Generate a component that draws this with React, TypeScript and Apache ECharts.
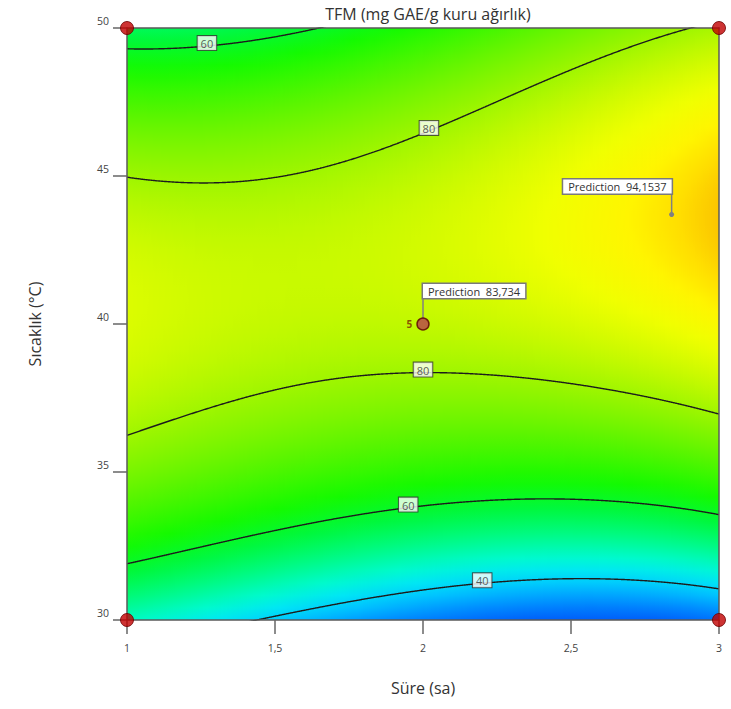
import React, { useEffect, useRef } from "react";
import * as echarts from "echarts";

// ---- data ----
const xTickValues = [1, 1.5, 2, 2.5, 3];
const xTickLabels = ["1", "1,5", "2", "2,5", "3"];
const yTickValues = [30, 35, 40, 45, 50];
const yTickLabels = ["30", "35", "40", "45", "50"];

const designX = [1, 1, 3, 3];
const designY = [30, 50, 30, 50];
const centerPoint = [2, 40];
const centerReplicates = "5";

const predictionX = [2, 2.84];
const predictionY = [40, 43.7];
const predictionText = ["Prediction  83,734", "Prediction  94,1537"];

// response surface estimated from the contours (coded units: A = x - 2, B = (y - 40) / 10)
// terms: 1, A, B, AB, A², B², A²B, A(1-A²)B
const modelCoefficients = [83.734, 2.21, 16.94, 10.59, 5.06, -35.3, -2.12, 4.0];

const contourLevels = [40, 60, 80];
const contourLabelLevel = [60, 80, 80, 60, 40];
const contourLabelBranch = ["upper", "upper", "lower", "lower", "lower"];
const contourLabelX = [1.27, 2.02, 2.0, 1.95, 2.2];

// ---- palette (value -> colour) ----
const paletteValues = [28, 33, 38, 42, 46, 52, 58, 64, 72, 79, 85, 89, 92, 94, 96, 98];
const paletteColors = [
  [0, 95, 250], [0, 140, 255], [0, 195, 255], [0, 230, 245], [0, 250, 205],
  [0, 250, 130], [0, 248, 60], [20, 250, 0], [90, 245, 0], [150, 245, 0],
  [205, 250, 0], [240, 255, 0], [255, 245, 0], [255, 222, 0], [250, 190, 0], [245, 160, 0],
];

function colorAt(v: number): string {
  const n = paletteValues.length;
  if (v <= paletteValues[0]) return `rgb(${paletteColors[0].join(",")})`;
  if (v >= paletteValues[n - 1]) return `rgb(${paletteColors[n - 1].join(",")})`;
  for (let i = 0; i < n - 1; i++) {
    if (v <= paletteValues[i + 1]) {
      const t = (v - paletteValues[i]) / (paletteValues[i + 1] - paletteValues[i]);
      const a = paletteColors[i], b = paletteColors[i + 1];
      const c = a.map((av, k) => Math.round(av + (b[k] - av) * t));
      return `rgb(${c.join(",")})`;
    }
  }
  return "#000";
}

function linearB(A: number): number {
  const c = modelCoefficients;
  return c[2] + c[3] * A + c[6] * A * A + c[7] * A * (1 - A * A);
}

function model(x: number, y: number): number {
  const A = x - 2, B = (y - 40) / 10;
  const c = modelCoefficients;
  return c[0] + c[1] * A + c[4] * A * A + linearB(A) * B + c[5] * B * B;
}

function contourY(x: number, level: number, branch: string): number | null {
  const A = x - 2;
  const c = modelCoefficients;
  const a2 = c[5];
  const a1 = linearB(A);
  const a0 = c[0] + c[1] * A + c[4] * A * A - level;
  const disc = a1 * a1 - 4 * a2 * a0;
  if (disc < 0) return null;
  const r1 = (-a1 + Math.sqrt(disc)) / (2 * a2);
  const r2 = (-a1 - Math.sqrt(disc)) / (2 * a2);
  const B = branch === "upper" ? Math.max(r1, r2) : Math.min(r1, r2);
  return 40 + 10 * B;
}

const FONT = "'Open Sans', 'Noto Sans', sans-serif";

export default function App() {
  const ref = useRef<HTMLDivElement>(null);
  useEffect(() => {
    document.body.style.margin = "0";
    const chart = echarts.init(ref.current!, null, { renderer: "svg" });

    const NCOL = 296;
    const surfaceData: number[][] = [];
    for (let i = 0; i < NCOL; i++) {
      surfaceData.push([1 + (i * 2) / NCOL, 1 + ((i + 1) * 2) / NCOL, 30, 50]);
    }

    const contourSeries: any[] = [];
    contourLevels.forEach((level) => {
      ["upper", "lower"].forEach((branch) => {
        const pts: number[][] = [];
        for (let k = 0; k <= 800; k++) {
          const x = 1 + (k * 2) / 800;
          const y = contourY(x, level, branch);
          if (y !== null && y >= 27 && y <= 53) pts.push([x, y]);
        }
        if (pts.length > 1) {
          contourSeries.push({
            type: "line",
            data: pts,
            showSymbol: false,
            symbol: "none",
            clip: true,
            z: 3,
            lineStyle: { color: "#1c1c1c", width: 1.4 },
            silent: true,
          });
        }
      });
    });

    const labelData = contourLabelX.map((x, i) => [
      x,
      contourY(x, contourLabelLevel[i], contourLabelBranch[i]) as number,
      contourLabelLevel[i],
    ]);

    const option: any = {
      animation: false,
      textStyle: { fontFamily: FONT },
      title: {
        text: "TFM (mg GAE/g kuru ağırlık)",
        left: 423,
        top: 1,
        textAlign: "center",
        textStyle: { fontSize: 16, fontWeight: "normal", color: "#333", fontFamily: FONT },
      },
      grid: { left: 127, top: 28, width: 592, height: 592, containLabel: false },
      xAxis: [
        {
          type: "value",
          min: 1,
          max: 3,
          interval: 0.5,
          z: 4,
          name: "Süre (sa)",
          nameLocation: "middle",
          nameGap: 60,
          nameTextStyle: { fontSize: 16, color: "#333", fontFamily: FONT },
          axisLine: { show: true, lineStyle: { color: "#5a5a5a", width: 1.5 } },
          axisTick: { show: true, length: 14, lineStyle: { color: "#666", width: 1.5 } },
          axisLabel: {
            fontSize: 10.5,
            color: "#444",
            margin: 22,
            formatter: (v: number) => {
              const i = xTickValues.findIndex((t) => Math.abs(t - v) < 1e-9);
              return i >= 0 ? xTickLabels[i] : "";
            },
          },
          splitLine: { show: false },
        },
        {
          type: "value",
          min: 1,
          max: 3,
          position: "top",
          z: 4,
          axisLine: { show: true, lineStyle: { color: "#5a5a5a", width: 1.5 } },
          axisTick: { show: false },
          axisLabel: { show: false },
          splitLine: { show: false },
        },
      ],
      yAxis: [
        {
          type: "value",
          min: 30,
          max: 50,
          interval: 5,
          z: 4,
          name: "Sıcaklık (°C)",
          nameLocation: "middle",
          nameGap: 84,
          nameTextStyle: { fontSize: 16, color: "#333", fontFamily: FONT },
          axisLine: { show: true, lineStyle: { color: "#5a5a5a", width: 1.5 } },
          axisTick: { show: true, length: 14, lineStyle: { color: "#666", width: 1.5 } },
          axisLabel: {
            fontSize: 10.5,
            color: "#444",
            margin: 18,
            verticalAlign: "bottom",
            padding: [0, 0, 2, 0],
            formatter: (v: number) => {
              const i = yTickValues.findIndex((t) => Math.abs(t - v) < 1e-9);
              return i >= 0 ? yTickLabels[i] : "";
            },
          },
          splitLine: { show: false },
        },
        {
          type: "value",
          min: 30,
          max: 50,
          position: "right",
          z: 4,
          axisLine: { show: true, lineStyle: { color: "#5a5a5a", width: 1.5 } },
          axisTick: { show: false },
          axisLabel: { show: false },
          splitLine: { show: false },
        },
      ],
      series: [
        {
          type: "custom",
          data: surfaceData,
          encode: { x: [0, 1], y: [2, 3] },
          clip: true,
          z: 1,
          silent: true,
          renderItem: (params: any, api: any) => {
            const x0 = api.value(0), x1 = api.value(1);
            const p0 = api.coord([x0, 50]);
            const p1 = api.coord([x1, 30]);
            const xm = (x0 + x1) / 2;
            const NS = 48;
            const stops: any[] = [];
            for (let k = 0; k <= NS; k++) {
              const t = k / NS;
              stops.push({ offset: t, color: colorAt(model(xm, 50 - 20 * t)) });
            }
            return {
              type: "rect",
              shape: { x: p0[0], y: p0[1], width: p1[0] - p0[0] + 0.8, height: p1[1] - p0[1] },
              style: { fill: new echarts.graphic.LinearGradient(0, 0, 0, 1, stops), stroke: null },
            };
          },
        },
        ...contourSeries,
        {
          type: "scatter",
          data: labelData,
          symbolSize: 0,
          z: 5,
          silent: true,
          label: {
            show: true,
            position: "top",
            distance: -4,
            formatter: (p: any) => String(p.value[2]),
            fontSize: 11,
            color: "#333",
            backgroundColor: "#fff",
            borderColor: "#333",
            borderWidth: 1,
            padding: [2, 3, 1, 3],
            fontFamily: FONT,
          },
        },
        {
          type: "scatter",
          data: designX.map((x, i) => [x, designY[i]]),
          symbol: "circle",
          symbolSize: 13,
          clip: false,
          z: 6,
          itemStyle: { color: "#c00000", borderColor: "#6a0000", borderWidth: 1 },
          silent: true,
        },
        {
          type: "scatter",
          data: [centerPoint],
          symbol: "circle",
          symbolSize: 12,
          clip: false,
          z: 6,
          itemStyle: { color: "#b8404f", borderColor: "#5a0000", borderWidth: 1.5 },
          label: {
            show: true,
            position: "left",
            distance: 4,
            formatter: centerReplicates,
            fontSize: 10,
            color: "#7a2a00",
            fontWeight: "bold",
            fontFamily: FONT,
          },
          silent: true,
        },
      ],
    };
    chart.setOption(option);

    const p0 = chart.convertToPixel({ gridIndex: 0 }, [predictionX[0], predictionY[0]]) as number[];
    const p1 = chart.convertToPixel({ gridIndex: 0 }, [predictionX[1], predictionY[1]]) as number[];
    const boxStyle = {
      fontSize: 11,
      fontFamily: FONT,
      fill: "#333",
      backgroundColor: "#fff",
      borderColor: "#7a7a7a",
      borderWidth: 1.5,
      padding: [2, 5, 1, 5],
      verticalAlign: "bottom",
    };
    chart.setOption({
      graphic: [
        {
          type: "line",
          z: 5,
          shape: { x1: p0[0], y1: p0[1] - 27, x2: p0[0], y2: p0[1] - 5 },
          style: { stroke: "#808080", lineWidth: 1.5 },
        },
        {
          type: "text",
          z: 7,
          x: p0[0],
          y: p0[1] - 26,
          style: { ...boxStyle, text: predictionText[0], align: "left" },
        },
        {
          type: "line",
          z: 5,
          shape: { x1: p1[0], y1: p1[1] - 22, x2: p1[0], y2: p1[1] },
          style: { stroke: "#808080", lineWidth: 1.5 },
        },
        {
          type: "circle",
          z: 5,
          shape: { cx: p1[0], cy: p1[1], r: 2.5 },
          style: { fill: "#808080" },
        },
        {
          type: "text",
          z: 7,
          x: p1[0],
          y: p1[1] - 21,
          style: { ...boxStyle, text: predictionText[1], align: "right" },
        },
      ],
    });

    return () => chart.dispose();
  }, []);
  return <div ref={ref} style={{ width: 731, height: 709 }} />;
}
